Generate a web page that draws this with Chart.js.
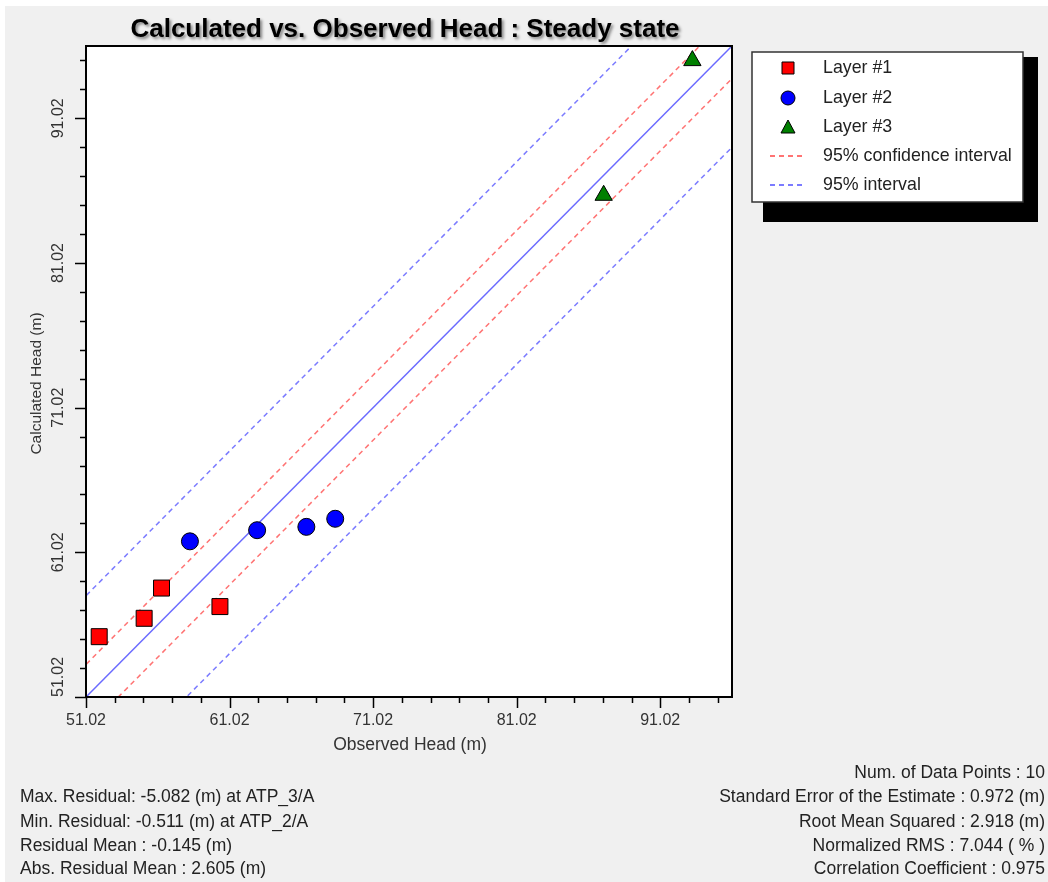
<!DOCTYPE html>
<html>
<head>
<meta charset="utf-8">
<script src="https://cdn.jsdelivr.net/npm/chart.js@4/dist/chart.umd.min.js"></script>
<style>
  html, body { margin: 0; padding: 0; background: #ffffff; }
  canvas { display: block; }
</style>
</head>
<body>
<canvas id="chart" width="1048" height="882"></canvas>
<script>
// --- data ---
const chartTitle = 'Calculated vs. Observed Head : Steady state';
const xAxisTitle = 'Observed Head (m)';
const yAxisTitle = 'Calculated Head (m)';

const axisMin = 51.02;
const axisMax = 96.02;
const majorTicks = [51.02, 61.02, 71.02, 81.02, 91.02];
const minorTicks = [53.02, 55.02, 57.02, 59.02, 63.02, 65.02, 67.02, 69.02,
                    73.02, 75.02, 77.02, 79.02, 83.02, 85.02, 87.02, 89.02, 93.02, 95.02];

const layer1Obs = [51.94, 55.07, 56.28, 60.35];
const layer1Calc = [55.19, 56.46, 58.55, 57.27];
const layer2Obs = [58.26, 62.94, 66.37, 68.38];
const layer2Calc = [61.78, 62.55, 62.78, 63.34];
const layer3Obs = [87.08, 93.26];
const layer3Calc = [85.70, 95.01];

// y = x reference line and the two interval bands (offsets in m)
const lineObs = [40, 110];
const confOffset = 2.25;
const intervalOffset = 7.0;

const legendLabels = ['Layer #1', 'Layer #2', 'Layer #3', '95% confidence interval', '95% interval'];

const leftStats = [
    'Max. Residual: -5.082 (m) at ATP_3/A',
    'Min. Residual: -0.511 (m) at ATP_2/A',
    'Residual Mean : -0.145 (m)',
    'Abs. Residual Mean : 2.605 (m)'
];
const rightStats = [
    'Num. of Data Points : 10',
    'Standard Error of the Estimate : 0.972 (m)',
    'Root Mean Squared : 2.918 (m)',
    'Normalized RMS : 7.044 ( % )',
    'Correlation Coefficient : 0.975'
];

const FONT = '"Liberation Sans", Arial, sans-serif';

const toPoints = (xs, ys) => xs.map((x, i) => ({ x: x, y: ys[i] }));
const offsetLine = off => lineObs.map(x => ({ x: x, y: x + off }));

const markerSet = (label, xs, ys, color, style, radius) => ({
    label: label,
    data: toPoints(xs, ys),
    pointStyle: style,
    pointRadius: radius,
    pointHoverRadius: radius,
    backgroundColor: color,
    borderColor: '#000000',
    borderWidth: 1
});

const lineSet = (label, data, color, dash) => ({
    label: label,
    data: data,
    showLine: true,
    pointRadius: 0,
    borderColor: color,
    borderWidth: 1.5,
    borderDash: dash,
    fill: false
});

const datasets = [
    markerSet('Layer #1', layer1Obs, layer1Calc, '#ff0000', 'rect', 11.3),
    markerSet('Layer #2', layer2Obs, layer2Calc, '#0000ff', 'circle', 8.5),
    markerSet('Layer #3', layer3Obs, layer3Calc, '#008000', 'triangle', 10),
    lineSet('fit', offsetLine(0), 'rgba(90,90,255,0.9)', []),
    lineSet('95% confidence interval', offsetLine(confOffset), 'rgba(255,90,90,0.85)', [5, 4]),
    lineSet('95% confidence interval lo', offsetLine(-confOffset), 'rgba(255,90,90,0.85)', [5, 4]),
    lineSet('95% interval', offsetLine(intervalOffset), 'rgba(100,100,255,0.85)', [5, 4]),
    lineSet('95% interval lo', offsetLine(-intervalOffset), 'rgba(100,100,255,0.85)', [5, 4])
];

// small legend symbols, same look as the plotted markers
function legendMarker(ctx, style, x, y, color) {
    ctx.fillStyle = color;
    ctx.strokeStyle = '#000000';
    ctx.lineWidth = 1;
    ctx.beginPath();
    if (style === 'rect') {
        ctx.rect(x - 6, y - 6, 12, 12);
    } else if (style === 'circle') {
        ctx.arc(x, y, 7, 0, Math.PI * 2);
    } else {
        ctx.moveTo(x, y - 7);
        ctx.lineTo(x + 7, y + 6);
        ctx.lineTo(x - 7, y + 6);
        ctx.closePath();
    }
    ctx.fill();
    ctx.stroke();
}

// everything around the plot: frame, ticks, labels, title, legend, statistics
const decorPlugin = {
    id: 'decor',
    beforeDraw(chart) {
        const ctx = chart.ctx;
        const a = chart.chartArea;
        ctx.save();
        ctx.fillStyle = '#ffffff';
        ctx.fillRect(0, 0, chart.width, chart.height);
        ctx.fillStyle = '#f0f0f0';
        ctx.fillRect(5, 6, chart.width - 5, chart.height - 6);
        ctx.fillStyle = '#ffffff';
        ctx.fillRect(a.left, a.top, a.right - a.left, a.bottom - a.top);
        ctx.restore();
    },
    afterDraw(chart) {
        const ctx = chart.ctx;
        const a = chart.chartArea;
        const xs = chart.scales.x;
        const ys = chart.scales.y;
        ctx.save();

        // frame
        ctx.strokeStyle = '#000000';
        ctx.lineWidth = 2;
        ctx.strokeRect(a.left, a.top, a.right - a.left, a.bottom - a.top);

        // ticks
        ctx.lineWidth = 1.5;
        ctx.beginPath();
        majorTicks.forEach(v => {
            const px = Math.round(xs.getPixelForValue(v)) + 0.5;
            ctx.moveTo(px, a.bottom); ctx.lineTo(px, a.bottom + 11);
            const py = Math.round(ys.getPixelForValue(v)) + 0.5;
            ctx.moveTo(a.left, py); ctx.lineTo(a.left - 11, py);
        });
        minorTicks.forEach(v => {
            const px = Math.round(xs.getPixelForValue(v)) + 0.5;
            ctx.moveTo(px, a.bottom); ctx.lineTo(px, a.bottom + 6);
            const py = Math.round(ys.getPixelForValue(v)) + 0.5;
            ctx.moveTo(a.left, py); ctx.lineTo(a.left - 6, py);
        });
        ctx.stroke();

        // tick labels
        ctx.fillStyle = '#333333';
        ctx.font = '16px ' + FONT;
        ctx.textBaseline = 'middle';
        ctx.textAlign = 'center';
        majorTicks.forEach(v => {
            ctx.fillText(v.toFixed(2), xs.getPixelForValue(v), a.bottom + 24);
        });
        majorTicks.forEach(v => {
            const txt = v.toFixed(2);
            const w = ctx.measureText(txt).width;
            let py = ys.getPixelForValue(v);
            if (py + w / 2 > a.bottom) py = a.bottom - w / 2;
            ctx.save();
            ctx.translate(a.left - 27, py);
            ctx.rotate(-Math.PI / 2);
            ctx.fillText(txt, 0, 0);
            ctx.restore();
        });

        // axis titles
        ctx.save();
        ctx.translate(37, (a.top + a.bottom) / 2 + 12);
        ctx.rotate(-Math.PI / 2);
        ctx.font = '15.5px ' + FONT;
        ctx.fillText(yAxisTitle, 0, 0);
        ctx.restore();
        ctx.font = '17.5px ' + FONT;
        ctx.fillText(xAxisTitle, (a.left + a.right) / 2 + 1, a.bottom + 48);

        // title with soft shadow
        ctx.font = 'bold 26px ' + FONT;
        ctx.fillStyle = '#000000';
        ctx.shadowColor = 'rgba(0,0,0,0.45)';
        ctx.shadowOffsetX = 2;
        ctx.shadowOffsetY = 2;
        ctx.shadowBlur = 3;
        ctx.fillText(chartTitle, 405, 30);
        ctx.shadowColor = 'transparent';

        // legend box with hard shadow
        const lx = 752, ly = 52, lw = 271, lh = 150;
        ctx.fillStyle = '#000000';
        ctx.fillRect(lx + 11, ly + 5, lw + 4, lh + 15);
        ctx.fillStyle = '#ffffff';
        ctx.fillRect(lx, ly, lw, lh);
        ctx.strokeStyle = '#333333';
        ctx.lineWidth = 1.5;
        ctx.strokeRect(lx, ly, lw, lh);

        const rows = [68, 98, 127, 156, 185];
        const mx = 788;
        [0, 1, 2].forEach(i => {
            const ds = chart.data.datasets[i];
            legendMarker(ctx, ds.pointStyle, mx, rows[i], ds.backgroundColor);
        });
        [[4, 3], [6, 4]].forEach(([di, r]) => {
            const ds = chart.data.datasets[di];
            ctx.strokeStyle = ds.borderColor;
            ctx.lineWidth = 2;
            ctx.setLineDash([5, 4]);
            ctx.beginPath();
            ctx.moveTo(770, rows[r]);
            ctx.lineTo(806, rows[r]);
            ctx.stroke();
        });
        ctx.setLineDash([]);
        ctx.fillStyle = '#222222';
        ctx.font = '17.8px ' + FONT;
        ctx.textAlign = 'left';
        legendLabels.forEach((t, i) => ctx.fillText(t, 823, rows[i]));

        // statistics
        ctx.fillStyle = '#222222';
        ctx.font = '17.5px ' + FONT;
        ctx.textAlign = 'left';
        const leftRows = [797, 822, 846, 869];
        leftStats.forEach((t, i) => ctx.fillText(t, 20, leftRows[i]));
        ctx.textAlign = 'right';
        const rightRows = [773, 797, 822, 846, 869];
        rightStats.forEach((t, i) => ctx.fillText(t, 1045, rightRows[i]));

        ctx.restore();
    }
};

new Chart(document.getElementById('chart'), {
    type: 'scatter',
    data: { datasets: datasets },
    options: {
        responsive: false,
        devicePixelRatio: 1,
        animation: false,
        layout: { padding: { top: 46, right: 316, left: 0, bottom: 0 } },
        plugins: {
            legend: { display: false },
            tooltip: { enabled: false },
            title: { display: false }
        },
        scales: {
            x: {
                type: 'linear',
                min: axisMin,
                max: axisMax,
                grid: { display: false },
                border: { display: false },
                ticks: { display: false },
                afterFit: s => { s.height = 185; }
            },
            y: {
                type: 'linear',
                min: axisMin,
                max: axisMax,
                grid: { display: false },
                border: { display: false },
                ticks: { display: false },
                afterFit: s => { s.width = 86; }
            }
        }
    },
    plugins: [decorPlugin]
});
</script>
</body>
</html>
